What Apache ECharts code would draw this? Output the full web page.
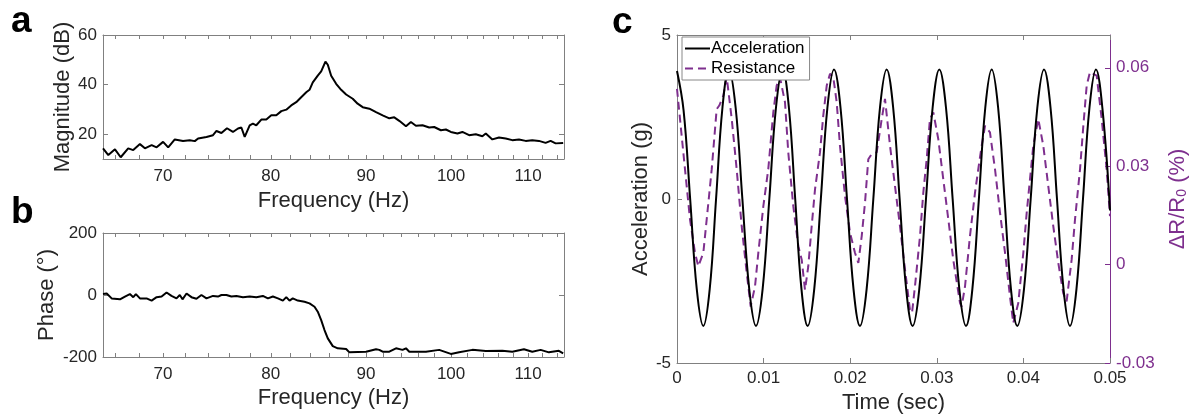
<!DOCTYPE html>
<html>
<head>
<meta charset="utf-8">
<script src="https://cdn.jsdelivr.net/npm/echarts@6/dist/echarts.min.js"></script>
<style>html,body{margin:0;padding:0;background:#fff;}#c{width:1196px;height:419px;}</style>
</head>
<body>
<div id="c"></div>
<script>
// ---- Panel a: magnitude (dB) vs frequency (Hz) ----
const freqMag = [65.0,65.43,65.97,66.44,67.06,67.48,68.04,68.46,69.03,69.46,70.02,70.46,71.04,71.77,72.37,72.82,73.12,73.88,74.48,74.80,75.26,75.78,76.34,76.82,77.14,77.46,77.94,78.25,78.58,79.07,79.56,80.05,80.55,81.05,81.55,82.05,82.56,83.07,83.59,83.93,84.27,84.79,85.15,85.60,85.85,86.21,86.74,87.28,87.82,88.54,89.08,89.64,90.38,91.13,91.88,92.64,93.21,93.79,94.57,95.15,95.74,96.53,97.33,97.93,98.75,99.36,99.97,100.79,101.41,102.26,103.11,103.95,104.39,105.24,106.11,107.0,107.87,108.77,109.67,110.57,111.49,112.41,113.11,113.81,114.88];
const magDb = [14.3,11.6,13.9,10.7,14.3,13.6,16.0,14.3,15.6,14.7,16.9,14.7,17.9,17.3,17.6,17.2,18.3,18.9,19.6,21.3,20.5,22.4,20.9,22.3,22.7,18.9,23.6,24.3,23.6,25.9,25.9,27.6,27.6,29.3,29.9,31.6,32.9,34.9,36.9,37.9,40.9,43.6,45.3,49.3,48.0,43.6,40.3,37.9,36.0,34.3,32.3,30.9,30.3,28.9,27.6,26.4,26.8,25.4,23.2,24.9,23.4,23.6,22.7,22.9,21.6,21.9,20.9,20.3,20.9,19.6,20.0,19.2,20.3,17.9,18.7,18.3,17.6,17.9,17.3,17.6,17.3,16.5,17.3,16.3,16.5];

// ---- Panel b: phase (deg) vs frequency (Hz) ----
const freqPhase = [65.0,65.30,65.70,66.38,66.79,67.20,67.48,67.70,68.04,68.60,69.03,69.46,69.89,70.32,70.75,71.19,71.48,71.72,72.08,72.52,72.97,73.42,73.88,74.48,74.94,75.26,75.73,76.19,76.67,77.29,77.94,78.58,79.22,79.72,80.21,80.71,81.21,81.55,81.88,82.21,82.72,83.41,83.93,84.45,84.79,85.15,85.50,85.85,86.38,86.91,87.82,88.18,90.01,91.13,91.50,91.88,92.64,93.41,94.17,94.57,94.96,95.34,96.93,98.54,99.97,101.0,102.67,104.39,106.55,107.87,109.44,110.57,111.72,112.87,114.27,114.88];
const phaseDeg = [3,5,-11,-14,-5,3,-7,3,-11,-11,-18,-7,-5,8,-3,-11,0,-14,5,-7,-12,0,-11,-3,-5,0,0,-5,-3,-7,-5,-7,-3,-11,-5,-11,-18,-7,-18,-11,-18,-22,-27,-38,-54,-81,-113,-140,-165,-172,-174,-185,-183,-175,-177,-183,-183,-172,-177,-172,-183,-183,-183,-177,-190,-185,-177,-181,-180,-183,-175,-183,-177,-185,-180,-188];

// ---- Panel c: acceleration (g) and resistance change (%) vs time (sec) ----
const timeAcc = [0,0.00076,0.00152,0.00228,0.00304,0.00378,0.00451,0.00525,0.00598,0.00677,0.00755,0.00834,0.00912,0.00989,0.01066,0.01143,0.0122,0.01292,0.01365,0.01437,0.01509,0.01585,0.01661,0.01737,0.01813,0.01888,0.01963,0.02038,0.02113,0.0219,0.02267,0.02344,0.02421,0.02496,0.02571,0.02646,0.02721,0.02798,0.02875,0.02952,0.03029,0.03106,0.03183,0.0326,0.03337,0.03411,0.03486,0.0356,0.03634,0.03708,0.03782,0.03856,0.0393,0.04007,0.04084,0.04161,0.04238,0.04313,0.04388,0.04463,0.04538,0.04613,0.04688,0.04763,0.04838,0.04913,0.05];
const accelG = [3.9,2.7,0,-2.74,-3.87,-2.74,0,2.79,3.95,2.79,0,-2.74,-3.87,-2.74,0,2.79,3.95,2.79,0,-2.74,-3.87,-2.74,0,2.79,3.95,2.79,0,-2.74,-3.87,-2.74,0,2.79,3.95,2.79,0,-2.74,-3.87,-2.74,0,2.79,3.95,2.79,0,-2.74,-3.87,-2.74,0,2.79,3.95,2.79,0,-2.74,-3.87,-2.74,0,2.79,3.95,2.79,0,-2.74,-3.87,-2.74,0,2.79,3.95,2.75,-0.35];
const timeRes = [0,0.00073,0.0015,0.00208,0.00246,0.00304,0.00343,0.00401,0.00458,0.00488,0.00535,0.00574,0.00632,0.00689,0.00747,0.00805,0.00851,0.00901,0.00939,0.00997,0.01054,0.01112,0.01151,0.01189,0.01247,0.01285,0.01343,0.01401,0.0144,0.01478,0.01516,0.01555,0.01594,0.01651,0.01689,0.01729,0.01767,0.01805,0.01844,0.01882,0.0194,0.01998,0.02055,0.02094,0.02133,0.02171,0.02209,0.02248,0.02306,0.02364,0.02402,0.0246,0.02517,0.02575,0.02633,0.0269,0.02714,0.02748,0.02806,0.02844,0.02883,0.02921,0.0296,0.03017,0.03075,0.03133,0.0319,0.03268,0.03287,0.03326,0.03383,0.03441,0.03479,0.03518,0.03557,0.03614,0.03672,0.0373,0.03788,0.03845,0.03883,0.03941,0.03999,0.04038,0.04076,0.04114,0.04172,0.0423,0.04287,0.04345,0.04403,0.0446,0.04499,0.04557,0.04596,0.04654,0.04692,0.04731,0.04769,0.04846,0.04904,0.04961,0.05];
const resistPct = [0.0536,0.0342,0.0138,0.0036,-0.0005,0.0036,0.0138,0.0291,0.0474,0.0485,0.0515,0.0572,0.0444,0.0291,0.0117,-0.0025,-0.0128,-0.0066,0.0036,0.0178,0.0291,0.0464,0.0546,0.0571,0.0495,0.0342,0.0178,0.0056,0.0015,-0.0077,-0.0005,0.0117,0.0230,0.0342,0.0454,0.0546,0.0582,0.0571,0.0495,0.0362,0.0209,0.0097,0.0036,0.0005,0.0087,0.0189,0.0321,0.0337,0.0342,0.0444,0.0505,0.0362,0.024,0.0117,-0.0015,-0.0138,-0.0147,-0.0066,0.0087,0.0219,0.0321,0.0444,0.0464,0.0383,0.026,0.0138,0.0015,-0.0117,-0.0128,-0.0066,0.0087,0.0219,0.0291,0.0362,0.0423,0.0403,0.0291,0.0158,0.0036,-0.0097,-0.0178,-0.0117,0.0036,0.0158,0.026,0.0362,0.0444,0.0362,0.024,0.0117,0.0005,-0.0087,-0.0112,0.0015,0.0138,0.0291,0.0423,0.0546,0.0587,0.0576,0.0444,0.0291,0.0148];

// ---- tick values ----
const freqTickLabels = [70,80,90,100,110];
const freqMinorTicks = [66,68,70,72,74,76,78,80,82,84,86,88,90,92,94,96,98,100,102,104,106,108,110,112,114];
const magTickLabels = [20,40,60];
const magTicks = [20,40];
const phaseTickLabels = [-200,0,200];
const phaseTicks = [0];
const resTickLabels = [-0.03,0,0.03,0.06];

const FONT = "'Liberation Sans', Arial, sans-serif";
const INK = '#262626';
const FRAME = '#808080';
const PURPLE = '#7E2F8E';

const lbl = (extra) => Object.assign({color: INK, fontSize: 17, fontFamily: FONT}, extra || {});
const nameStyle = (extra) => Object.assign({color: INK, fontSize: 22, fontFamily: FONT}, extra || {});

function freqAxis(grid, pos, name, gap) {
  const top = pos === 'top';
  return {
    type: 'log', logBase: 10, gridIndex: grid, position: pos, min: 65, max: 115,
    axisLine: {show: true, onZero: false, lineStyle: {color: FRAME, width: 1}},
    axisTick: {show: true, inside: true, length: 4, customValues: freqMinorTicks, lineStyle: {color: FRAME}},
    axisLabel: top ? {show: false} : lbl({customValues: freqTickLabels, margin: 9}),
    splitLine: {show: false}, minorTick: {show: false}, minorSplitLine: {show: false},
    name: top ? '' : name, nameLocation: 'middle', nameGap: gap, nameTextStyle: nameStyle()
  };
}
function valAxis(grid, pos, min, max, labels, ticks, name, gap, color) {
  return {
    type: 'value', gridIndex: grid, position: pos, min: min, max: max,
    axisLine: {show: true, onZero: false, lineStyle: {color: color || FRAME, width: 1}},
    axisTick: {show: true, inside: true, length: 5, customValues: ticks, lineStyle: {color: color || FRAME}},
    axisLabel: labels ? lbl({customValues: labels, margin: 6, color: color ? PURPLE : INK}) : {show: false},
    splitLine: {show: false},
    name: name || '', nameLocation: 'middle', nameGap: gap || 0, nameRotate: 90,
    nameTextStyle: nameStyle()
  };
}

const chart = echarts.init(document.getElementById('c'), null, {renderer: 'canvas'});

const accRight = valAxis(2, 'right', -0.03, 0.07, resTickLabels, resTickLabels, '{n|ΔR/R}{s|0}{n| (%)}', 53, PURPLE);
accRight.axisLabel.formatter = v => (v === 0 ? '0' : Number(v).toFixed(2));
accRight.nameTextStyle = nameStyle({color: PURPLE, rich: {
  n: {color: PURPLE, fontSize: 22, fontFamily: FONT, verticalAlign: 'bottom', lineHeight: 26},
  s: {color: PURPLE, fontSize: 14, fontFamily: FONT, verticalAlign: 'bottom', lineHeight: 20}
}});

const option = {
  animation: false,
  backgroundColor: '#fff',
  textStyle: {fontFamily: FONT},
  grid: [
    {left: 103, top: 35, width: 461, height: 124},
    {left: 103, top: 233, width: 461, height: 124},
    {left: 677, top: 35, width: 433, height: 328}
  ],
  xAxis: [
    freqAxis(0, 'bottom', 'Frequency (Hz)', 31),
    freqAxis(0, 'top'),
    freqAxis(1, 'bottom', 'Frequency (Hz)', 30),
    freqAxis(1, 'top'),
    {
      type: 'value', gridIndex: 2, position: 'bottom', min: 0, max: 0.05, interval: 0.01,
      axisLine: {show: true, onZero: false, lineStyle: {color: FRAME}},
      axisTick: {show: true, inside: true, length: 5, lineStyle: {color: FRAME}},
      axisLabel: lbl({margin: 7}),
      splitLine: {show: false},
      name: 'Time (sec)', nameLocation: 'middle', nameGap: 29, nameTextStyle: nameStyle()
    },
    {
      type: 'value', gridIndex: 2, position: 'top', min: 0, max: 0.05, interval: 0.01,
      axisLine: {show: true, onZero: false, lineStyle: {color: FRAME}},
      axisTick: {show: true, inside: true, length: 5, lineStyle: {color: FRAME}},
      axisLabel: {show: false}, splitLine: {show: false}
    }
  ],
  yAxis: [
    valAxis(0, 'left', 10, 60, magTickLabels, magTicks, 'Magnitude (dB)', 25),
    valAxis(0, 'right', 10, 60, null, magTicks),
    valAxis(1, 'left', -200, 200, phaseTickLabels, phaseTicks, 'Phase (°)', 45),
    valAxis(1, 'right', -200, 200, null, phaseTicks),
    valAxis(2, 'left', -5, 5, [-5, 0, 5], [0], 'Acceleration (g)', 21),
    accRight
  ],
  legend: {
    data: ['Acceleration', 'Resistance'],
    orient: 'vertical', left: 682, top: 37,
    itemWidth: 25, itemHeight: 12, itemGap: 3,
    padding: [3, 5, 3, 2],
    backgroundColor: '#fff', borderColor: '#888', borderWidth: 1, borderRadius: 0,
    itemStyle: {opacity: 0},
    textStyle: {color: '#000', fontSize: 17, fontFamily: FONT, padding: [0, 0, 0, -4]}
  },
  graphic: [
    {type: 'text', left: 11, top: 3, style: {text: 'a', font: 'bold 37px ' + FONT, fill: '#000'}},
    {type: 'text', left: 11, top: 194, style: {text: 'b', font: 'bold 37px ' + FONT, fill: '#000'}},
    {type: 'text', left: 612, top: 4, style: {text: 'c', font: 'bold 37px ' + FONT, fill: '#000'}}
  ],
  series: [
    {name: 'Magnitude', type: 'line', xAxisIndex: 0, yAxisIndex: 0, symbol: 'none', silent: true,
     data: freqMag.map((f, i) => [f, magDb[i]]), lineStyle: {color: '#000', width: 2}},
    {name: 'Phase', type: 'line', xAxisIndex: 2, yAxisIndex: 2, symbol: 'none', silent: true,
     data: freqPhase.map((f, i) => [f, phaseDeg[i]]), lineStyle: {color: '#000', width: 2}},
    {name: 'Acceleration', type: 'line', xAxisIndex: 4, yAxisIndex: 4, symbol: 'none', silent: true, smooth: 0.4,
     data: timeAcc.map((t, i) => [t, accelG[i]]), itemStyle: {color: '#000'}, lineStyle: {color: '#000', width: 2}, z: 3},
    {name: 'Resistance', type: 'line', xAxisIndex: 4, yAxisIndex: 5, symbol: 'none', silent: true,
     data: timeRes.map((t, i) => [t, resistPct[i]]), itemStyle: {color: PURPLE},
     lineStyle: {color: PURPLE, width: 2, type: [8, 5]}, z: 2}
  ]
};
chart.setOption(option);
</script>
</body>
</html>
